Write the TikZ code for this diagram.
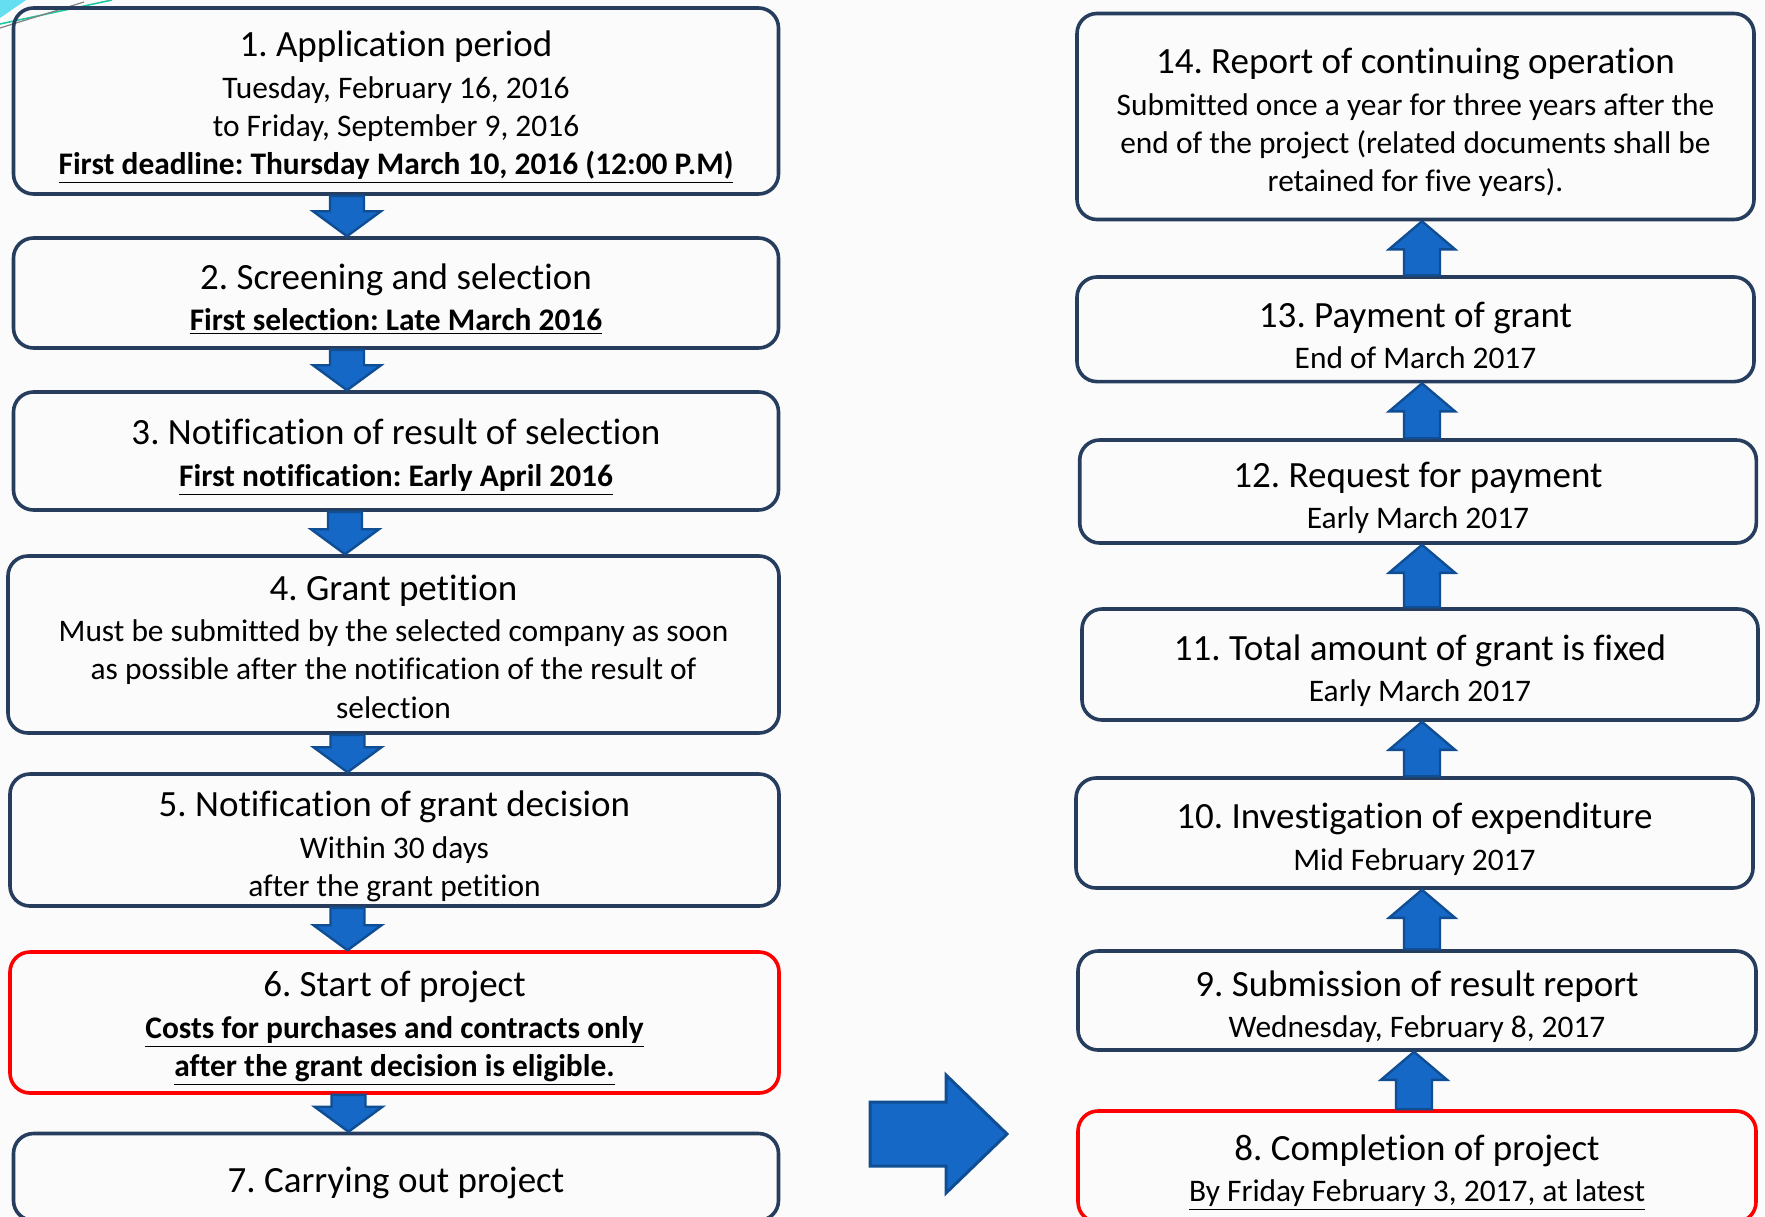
\documentclass[tikz,border=0pt]{standalone}
\usepackage{fontspec}
\setmainfont{Carlito}[Ligatures=CommonOff]
\usetikzlibrary{calc}
\definecolor{cNavy}{RGB}{38,61,94}
\definecolor{cRed}{RGB}{255,0,0}
\definecolor{cArrow}{RGB}{21,104,198}
\definecolor{cArrowLine}{RGB}{16,78,148}
\definecolor{cCyan}{RGB}{100,222,240}
\definecolor{cTeal}{RGB}{30,200,160}
\newcommand{\headfont}{\fontsize{18.5}{20.8}\selectfont\rule{0pt}{19pt}}
\newcommand{\subfont}{\fontsize{15.7}{19.1}\selectfont}
\tikzset{stage/.style={
  draw=cNavy,
  line width=1.8pt,
  rounded corners=10pt,
  align=center,
  inner sep=0pt,
  font=\subfont\frenchspacing,
  text=black,
  }
}
\tikzset{stagered/.style={
  stage,
  draw=cRed,
  }
}
\tikzset{flowarrow/.style={
  fill=cArrow,
  draw=cArrowLine,
  line width=1.2pt,
  line join=miter,
  }
}
% block arrow downwards, from #1 to #2, shifted sideways by #3
\newcommand{\flowdown}[3]{%
  \coordinate (fa) at ($(#1.south)+(#3,0)$);
  \coordinate (fb) at (fa |- #2.north);
  \draw[flowarrow] ($(fa)+(-17,0)$) -- ($(fa)+(17,0)$) -- ($(fb)+(17,-25)$)
    -- ($(fb)+(34,-25)$) -- (fb) -- ($(fb)+(-34,-25)$) -- ($(fb)+(-17,-25)$) -- cycle;}
% block arrow upwards, from #1 to #2, shifted sideways by #3
\newcommand{\flowup}[3]{%
  \coordinate (fa) at ($(#1.north)+(#3,0)$);
  \coordinate (fb) at (fa |- #2.south);
  \draw[flowarrow] ($(fa)+(-18,0)$) -- ($(fa)+(18,0)$) -- ($(fb)+(18,28)$)
    -- ($(fb)+(33,28)$) -- (fb) -- ($(fb)+(-33,28)$) -- ($(fb)+(-18,28)$) -- cycle;}

\begin{document}
\begin{tikzpicture}[x=0.5pt,y=-0.5pt]
  \useasboundingbox (0,0) rectangle (1765,1216);
  \fill[gray!3] (0,0) rectangle (1765,1216);
  % corner swoosh of the slide
  \fill[cCyan] (0,0) -- (26,0) -- (0,18) -- cycle;
  \draw[cTeal, line width=0.8pt] (0,24) -- (112,0);
  \draw[gray, line width=0.6pt] (0,28) -- (84,2);

  % left column
  \node[stage, minimum width=382.5pt, minimum height=93pt] (s1) at (396,101)
    {{\headfont 1. Application period}\\[1.7pt]
     Tuesday, February 16, 2016\\
     to Friday, September 9, 2016\\
     \underline{\textbf{First deadline: Thursday March 10, 2016 (12:00 P.M)}}};
  \node[stage, minimum width=382.5pt, minimum height=55pt] (s2) at (396,293)
    {{\headfont 2. Screening and selection}\\[1.7pt]
     \underline{\textbf{First selection: Late March 2016}}};
  \node[stage, minimum width=382.5pt, minimum height=59pt] (s3) at (396,451)
    {{\headfont 3. Notification of result of selection}\\[1.7pt]
     \underline{\textbf{First notification: Early April 2016}}};
  \node[stage, minimum width=385.5pt, minimum height=88.5pt] (s4) at (393.5,644.5)
    {{\headfont 4. Grant petition}\\[1.7pt]
     Must be submitted by the selected company as soon\\
     as possible after the notification of the result of\\
     selection\rule[-4.5pt]{0pt}{4.5pt}};
  \node[stage, minimum width=384.5pt, minimum height=66pt] (s5) at (394.5,840)
    {{\headfont 5. Notification of grant decision}\\[1.7pt]
     Within 30 days\\
     after the grant petition};
  \node[stagered, minimum width=384.5pt, minimum height=70.5pt] (s6) at (394.5,1022.5)
    {{\headfont 6. Start of project}\\[1.7pt]
     \underline{\textbf{Costs for purchases and contracts only}}\\
     \underline{\textbf{after the grant decision is eligible.}}};
  \node[stage, minimum width=382.5pt, minimum height=43.5pt] (s7) at (396,1177)
    {{\headfont 7. Carrying out project}};

  % right column
  \node[stagered, minimum width=339pt, minimum height=55.5pt] (s8) at (1417,1166.5)
    {{\headfont 8. Completion of project}\\[1.7pt]
     \underline{By Friday February 3, 2017, at latest}};
  \node[stage, minimum width=339pt, minimum height=49.5pt] (s9) at (1417,1000.5)
    {{\headfont 9. Submission of result report}\\[1.7pt]
     Wednesday, February 8, 2017};
  \node[stage, minimum width=338.5pt, minimum height=55pt] (s10) at (1414.5,833)
    {{\headfont 10. Investigation of expenditure}\\[1.7pt]
     Mid February 2017};
  \node[stage, minimum width=338pt, minimum height=55.5pt] (s11) at (1420,664.5)
    {{\headfont 11. Total amount of grant is fixed}\\[1.7pt]
     Early March 2017};
  \node[stage, minimum width=338.3pt, minimum height=51.5pt] (s12) at (1418,491.5)
    {{\headfont 12. Request for payment}\\[1.7pt]
     Early March 2017};
  \node[stage, minimum width=338.5pt, minimum height=52.3pt] (s13) at (1415.5,329.3)
    {{\headfont 13. Payment of grant}\\[1.7pt]
     End of March 2017};
  \node[stage, minimum width=338.5pt, minimum height=103pt] (s14) at (1415.5,116.5)
    {{\headfont 14. Report of continuing operation}\\[1.7pt]
     Submitted once a year for three years after the\\
     end of the project (related documents shall be\\
     retained for five years).};

  % arrows
  \flowdown{s1}{s2}{-49}
  \flowdown{s2}{s3}{-49}
  \flowdown{s3}{s4}{-51}
  \flowdown{s4}{s5}{-46}
  \flowdown{s5}{s6}{-47}
  \flowdown{s6}{s7}{-46}
  \flowup{s8}{s9}{-3}
  \flowup{s9}{s10}{5}
  \flowup{s10}{s11}{7.5}
  \flowup{s11}{s12}{2}
  \flowup{s12}{s13}{4}
  \flowup{s13}{s14}{6.5}

  % from the left column to the right column
  \coordinate (bigtail) at (870,1134);
  \coordinate (bigtip) at (1007,1134);
  \draw[flowarrow, line width=1.5pt] ($(bigtail)+(0,-32)$) -- ($(bigtip)+(-61,-32)$)
    -- ($(bigtip)+(-61,-59)$) -- (bigtip) -- ($(bigtip)+(-61,59)$)
    -- ($(bigtip)+(-61,32)$) -- ($(bigtail)+(0,32)$) -- cycle;
\end{tikzpicture}
\end{document}
